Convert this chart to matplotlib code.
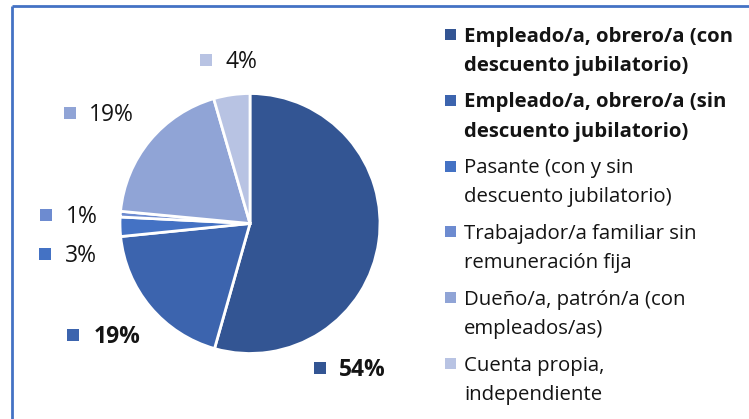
import matplotlib
matplotlib.use('Agg')
import matplotlib.pyplot as plt
from matplotlib.patches import Rectangle

# ---- data ----
categories = [
    ["Empleado/a, obrero/a (con", "descuento jubilatorio)"],
    ["Empleado/a, obrero/a (sin", "descuento jubilatorio)"],
    ["Pasante (con y sin", "descuento jubilatorio)"],
    ["Trabajador/a familiar sin", "remuneración fija"],
    ["Dueño/a, patrón/a (con", "empleados/as)"],
    ["Cuenta propia,", "independiente"],
]
values = [54.4, 19.0, 2.4, 0.7, 19.0, 4.5]
pct_labels = ["54%", "19%", "3%", "1%", "19%", "4%"]
bold_flags = [True, True, False, False, False, False]

# ---- style / layout ----
colors = ['#335593', '#3C64AE', '#4472C4', '#6D8BD0', '#90A4D6', '#B8C3E3']
W, H = 749, 419
FONT = ['Open Sans', 'DejaVu Sans']
FS = 14.7
FS_LAB = 16.5
TXT = '#141414'

# label layout (image pixel coords): marker center, text left x
lab_marker = [(320, 368), (73, 335), (45, 254), (46, 215), (70, 113), (206, 60)]
lab_text_x = [339, 94, 65, 66, 89, 226]

leg_marker_x = 450.5
leg_first_y = 34.5
leg_pitch = 65.8
leg_line = 29.0
leg_text_x = 464

fig = plt.figure(figsize=(W / 100, H / 100), dpi=100)
ax = fig.add_axes([0, 0, 1, 1])


def Y(y_img):
    return H - y_img


ax.pie(values, colors=colors, startangle=90, counterclock=False,
       center=(250, Y(223.5)), radius=130,
       wedgeprops=dict(edgecolor='white', linewidth=2.0))
ax.set_xlim(0, W)
ax.set_ylim(0, H)
ax.axis('off')

sq = 12
# data labels
for i, lab in enumerate(pct_labels):
    mx, my = lab_marker[i]
    ax.add_patch(Rectangle((mx - sq / 2, Y(my) - sq / 2), sq, sq,
                           facecolor=colors[i], edgecolor='none'))
    ax.text(lab_text_x[i], Y(my + 8), lab, fontsize=FS_LAB, family=FONT,
            fontweight='bold' if bold_flags[i] else 'normal',
            color=TXT, ha='left', va='baseline')

# legend
sq2 = 11
for i, lines in enumerate(categories):
    cy = leg_first_y + i * leg_pitch
    ax.add_patch(Rectangle((leg_marker_x - sq2 / 2, Y(cy) - sq2 / 2), sq2, sq2,
                           facecolor=colors[i], edgecolor='none'))
    for j, line in enumerate(lines):
        base = cy + 7.2 + j * leg_line
        ax.text(leg_text_x, Y(base), line, fontsize=FS, family=FONT,
                fontweight='bold' if bold_flags[i] else 'normal',
                color=TXT, ha='left', va='baseline')

# frame (top and left edges visible)
ax.plot([12, W + 5], [Y(6), Y(6)], color='#4472C4', lw=2.0,
        solid_capstyle='butt', clip_on=False)
ax.plot([12, 12], [Y(6), -5], color='#4472C4', lw=2.0,
        solid_capstyle='butt', clip_on=False)

fig.savefig('out.png', dpi=100, facecolor='white')
